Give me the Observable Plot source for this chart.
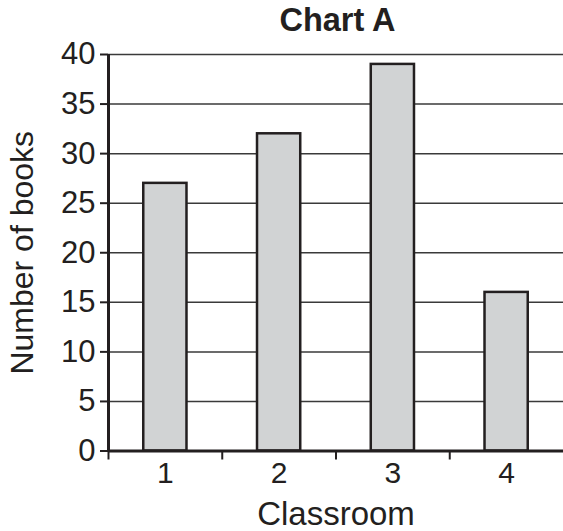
<!DOCTYPE html>
<html>
<head>
<meta charset="utf-8">
<script src="https://cdn.jsdelivr.net/npm/d3@7"></script>
<script src="https://cdn.jsdelivr.net/npm/@observablehq/plot@0.6"></script>
<style>
  html, body { margin: 0; padding: 0; background: #fff; }
  svg { display: block; }
</style>
</head>
<body>
<div id="chart"></div>
<script>
const classrooms = [1, 2, 3, 4];
const books = [27, 32, 39, 16];
const yTicks = [0, 5, 10, 15, 20, 25, 30, 35, 40];
const title = "Chart A";
const xLabel = "Classroom";
const yLabel = "Number of books";

const data = classrooms.map((c, i) => ({classroom: c, books: books[i]}));
const half = 0.19;
const boundaries = classrooms.map(c => c - 0.5);
const ink = "#231f20";
const font = "'Liberation Sans', Arial, Helvetica, sans-serif";

const plot = Plot.plot({
  width: 563,
  height: 531,
  marginTop: 54,
  marginBottom: 80.5,
  marginLeft: 108,
  marginRight: 0,
  style: {fontFamily: font, color: ink, background: "white"},
  x: {domain: [0.5, 4.5], axis: null},
  y: {domain: [0, 40], axis: null},
  marks: [
    Plot.ruleY(yTicks.filter(d => d > 0), {stroke: "#3a3a3a", strokeWidth: 1.5}),
    Plot.rectY(data, {x1: d => d.classroom - half, x2: d => d.classroom + half, y: "books",
      fill: "#d1d3d4", stroke: ink, strokeWidth: 2.5}),
    Plot.ruleY([0], {stroke: ink, strokeWidth: 3}),
    Plot.ruleX([0.5], {stroke: ink, strokeWidth: 3}),
    Plot.axisY({ticks: yTicks, tickSize: 8, tickPadding: 5, fontSize: 31, stroke: ink, strokeWidth: 2, fill: ink, label: null}),
    Plot.axisX({ticks: boundaries, tickSize: 9, tickFormat: () => "", stroke: ink, strokeWidth: 2, label: null}),
    Plot.axisX({ticks: classrooms, tickSize: 0, tickPadding: 11, tickFormat: d => String(d), fontSize: 30, fill: ink, label: null}),
    Plot.text([title], {frameAnchor: "top", dx: 1.5, dy: -33.5, lineAnchor: "middle", textAnchor: "middle", fontSize: 32.5, fontWeight: "bold", fill: ink}),
    Plot.text([xLabel], {frameAnchor: "bottom", dy: 63.5, lineAnchor: "middle", textAnchor: "middle", fontSize: 33, fill: ink}),
    Plot.text([yLabel], {frameAnchor: "left", dx: -86, rotate: -90, lineAnchor: "middle", textAnchor: "middle", fontSize: 32, fill: ink})
  ]
});
document.getElementById("chart").appendChild(plot);
</script>
</body>
</html>
